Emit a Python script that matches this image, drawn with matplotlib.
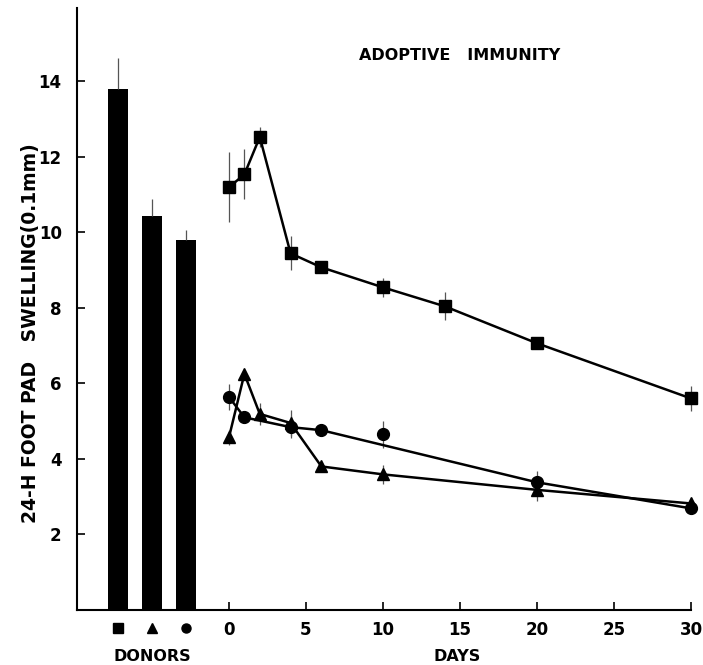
# adoptive immunity: foot pad swelling after transfer
import numpy as np
import matplotlib.pyplot as plt
from matplotlib.transforms import blended_transform_factory

plt.rcParams['font.family'] = ['DejaVu Sans']
plt.rcParams['font.weight'] = 'bold'

# donor bars
donor_markers = ['s', '^', 'o']
donor_values = [13.8, 10.42, 9.8]
donor_err = [0.8, 0.45, 0.25]

# recipients, square donors
sq_days = [0, 1, 2, 4, 6, 10, 14, 20, 30]
sq_vals = [11.19, 11.53, 12.52, 9.44, 9.07, 8.54, 8.04, 7.06, 5.6]
sq_err = [0.93, 0.66, 0.27, 0.45, 0.05, 0.25, 0.37, 0.15, 0.32]

# recipients, triangle donors
tr_days = [0, 1, 2, 4, 6, 10, 20, 30]
tr_vals = [4.57, 6.25, 5.19, 4.95, 3.8, 3.59, 3.18, 2.82]
tr_err = [0.2, 0.08, 0.3, 0.35, 0.05, 0.25, 0.3, 0.15]

# recipients, circle donors (day 10 point sits off the line)
ci_days = [0, 1, 4, 6, 20, 30]
ci_vals = [5.64, 5.1, 4.84, 4.76, 3.38, 2.69]
ci_err = [0.35, 0.08, 0.3, 0.12, 0.3, 0.15]
ci_extra_day = [10]
ci_extra_val = [4.65]
ci_extra_err = [0.35]

fig = plt.figure(figsize=(7.03, 6.65), dpi=100)
ax = fig.add_axes([0.1095, 0.0827, 0.8905, 0.905])

bar_x = [-7.18, -4.97, -2.79]
ax.bar(bar_x, donor_values, width=1.3, color='black', zorder=2)
ax.errorbar(bar_x, donor_values, yerr=[[0, 0, 0], donor_err], fmt='none',
            ecolor='#555555', elinewidth=0.9, capsize=0)

def series(days, vals, err, marker, ms, line=True):
    ax.errorbar(days, vals, yerr=err, fmt='none', ecolor='#555555',
                elinewidth=0.9, capsize=0, zorder=3)
    ax.plot(days, vals, color='black', lw=1.8 if line else 0,
            marker=marker, ms=ms, mfc='black', mec='black', zorder=4)

series(sq_days, sq_vals, sq_err, 's', 8.5)
series(tr_days, tr_vals, tr_err, '^', 8.5)
series(ci_days, ci_vals, ci_err, 'o', 8.5)
series(ci_extra_day, ci_extra_val, ci_extra_err, 'o', 8.5, line=False)

ax.set_xlim(-9.87, 30.78)
ax.set_ylim(0, 15.93)
ax.set_xticks([0, 5, 10, 15, 20, 25, 30])
ax.set_yticks([2, 4, 6, 8, 10, 12, 14])
ax.tick_params(direction='in', length=6, width=1.2, labelsize=12)
ax.tick_params(axis='y', pad=11)
ax.tick_params(axis='x', pad=8)

for s in ['top', 'right']:
    ax.spines[s].set_visible(False)
ax.spines['left'].set_linewidth(1.5)
ax.spines['bottom'].set_linewidth(1.5)
ax.spines['bottom'].set_bounds(-9.87, 30)

# donor symbols under the bars
trans = blended_transform_factory(ax.transData, ax.transAxes)
for bx, m in zip(bar_x, donor_markers):
    ax.plot([bx], [-0.03], marker=m, ms=6.5, color='black', transform=trans,
            clip_on=False)

ax.text(0.121, -0.078, 'DONORS', transform=ax.transAxes, ha='center',
        va='center', fontsize=11.5, fontweight='bold')
ax.text(0.607, -0.078, 'DAYS', transform=ax.transAxes, ha='center',
        va='center', fontsize=11.5, fontweight='bold')
ax.text(0.612, 0.922, 'ADOPTIVE   IMMUNITY', transform=ax.transAxes,
        ha='center', va='center', fontsize=11.5, fontweight='bold')
ax.text(-0.075, 0.46, '24-H FOOT PAD   SWELLING(0.1mm)', transform=ax.transAxes,
        ha='center', va='center', rotation=90, fontsize=13.5, fontweight='bold')

fig.savefig('out.png', dpi=100)
